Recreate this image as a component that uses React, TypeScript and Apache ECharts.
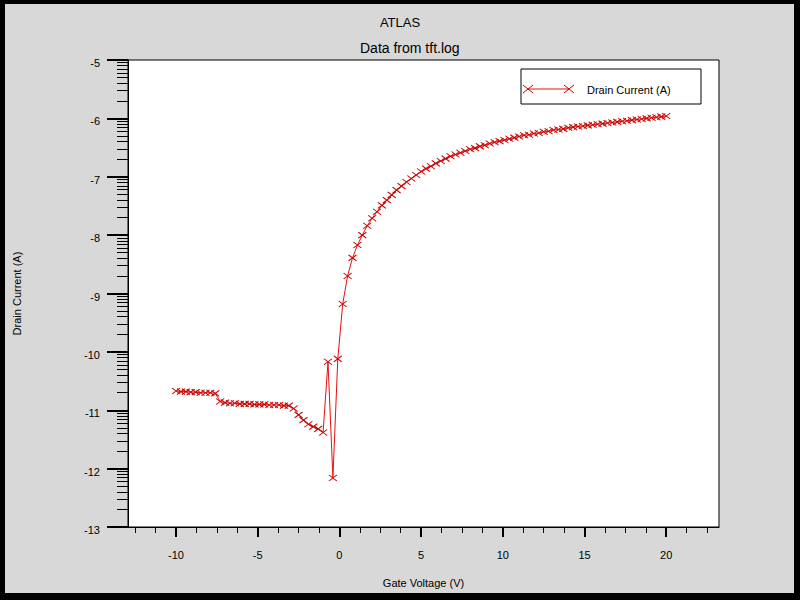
import React, { useEffect, useRef } from "react";
import * as echarts from "echarts";

const gateVoltage = [
  -10.0, -9.7, -9.4, -9.1, -8.8, -8.5, -8.2, -7.9, -7.6, -7.3,
  -7.0, -6.7, -6.4, -6.1, -5.8, -5.5, -5.2, -4.9, -4.6, -4.3,
  -4.0, -3.7, -3.4, -3.1, -2.8, -2.5, -2.2, -1.9, -1.6, -1.3,
  -1.0, -0.7, -0.4, -0.1, 0.2, 0.5, 0.8, 1.1, 1.4, 1.7,
  2.0, 2.3, 2.6, 2.9, 3.2, 3.5, 3.8, 4.1, 4.4, 4.7,
  5.0, 5.3, 5.6, 5.9, 6.2, 6.5, 6.8, 7.1, 7.4, 7.7,
  8.0, 8.3, 8.6, 8.9, 9.2, 9.5, 9.8, 10.1, 10.4, 10.7,
  11.0, 11.3, 11.6, 11.9, 12.2, 12.5, 12.8, 13.1, 13.4, 13.7,
  14.0, 14.3, 14.6, 14.9, 15.2, 15.5, 15.8, 16.1, 16.4, 16.7,
  17.0, 17.3, 17.6, 17.9, 18.2, 18.5, 18.8, 19.1, 19.4, 19.7,
  20.0,
];

const drainCurrentLog = [
  -10.67, -10.68, -10.68, -10.69, -10.69, -10.70, -10.70, -10.70, -10.71, -10.85,
  -10.87, -10.88, -10.88, -10.89, -10.89, -10.89, -10.90, -10.90, -10.90, -10.91,
  -10.91, -10.91, -10.92, -10.92, -10.97, -11.08, -11.17, -11.24, -11.28, -11.32,
  -11.38, -10.17, -12.16, -10.12, -9.18, -8.70, -8.39, -8.17, -8.00, -7.84,
  -7.71, -7.60, -7.49, -7.40, -7.31, -7.23, -7.16, -7.09, -7.03, -6.97,
  -6.91, -6.86, -6.82, -6.77, -6.73, -6.69, -6.65, -6.62, -6.59, -6.56,
  -6.53, -6.51, -6.48, -6.46, -6.43, -6.41, -6.39, -6.37, -6.35, -6.33,
  -6.31, -6.29, -6.28, -6.26, -6.25, -6.23, -6.22, -6.20, -6.19, -6.18,
  -6.16, -6.15, -6.14, -6.13, -6.12, -6.11, -6.10, -6.09, -6.08, -6.07,
  -6.06, -6.05, -6.04, -6.03, -6.02, -6.01, -6.00, -5.99, -5.98, -5.97,
  -5.96,
];

const xMajorTicks = [-10, -5, 0, 5, 10, 15, 20];
const xMinorTicks = [-12.5, -11.25, -8.75, -7.5, -6.25, -3.75, -2.5, -1.25, 1.25, 2.5, 3.75, 6.25, 7.5, 8.75, 11.25, 12.5, 13.75, 16.25, 17.5, 18.75, 21.25, 22.5];
const yDecades = [-13, -12, -11, -10, -9, -8, -7, -6];
const yMinorMultipliers = [2, 3, 4, 5, 6, 7, 8, 9];

const FONT = "Liberation Sans";
const RED_LINE = "#e81010";
const RED_MARK = "#c80000";

export default function App() {
  const ref = useRef<HTMLDivElement>(null);

  useEffect(() => {
    if (!ref.current) return;
    const chart = echarts.init(ref.current, undefined, { renderer: "svg" });

    const yMinor: number[] = [];
    yDecades.forEach((d) => yMinorMultipliers.forEach((k) => yMinor.push(d + Math.log10(k))));

    const data = gateVoltage.map((x, i) => [x, drainCurrentLog[i]]);

    const gridL = 128, gridT = 60, gridR = 719, gridB = 527;

    chart.setOption({
      animation: false,
      backgroundColor: "#d8d8d8",
      textStyle: { fontFamily: FONT, color: "#000" },
      title: [
        { text: "ATLAS", left: "center", top: 11, textStyle: { fontSize: 13, fontWeight: "normal", color: "#000", fontFamily: FONT } },
        { text: "Data from tft.log", left: 355, top: 36, textStyle: { fontSize: 14, fontWeight: "normal", color: "#000", fontFamily: FONT } },
      ],
      grid: {
        left: gridL,
        top: gridT,
        width: gridR - gridL,
        height: gridB - gridT,
        show: true,
        backgroundColor: "#ffffff",
        borderColor: "#000",
        borderWidth: 1,
      },
      xAxis: [
        {
          type: "value",
          min: -12.94,
          max: 23.23,
          position: "bottom",
          splitLine: { show: false },
          axisLine: { show: true, onZero: false, lineStyle: { color: "#000", width: 1 } },
          axisTick: { show: true, customValues: xMajorTicks, length: 10, lineStyle: { color: "#000", width: 2 } },
          axisLabel: { customValues: xMajorTicks, margin: 22, fontSize: 11, color: "#000", fontFamily: FONT },
          name: "Gate Voltage (V)",
          nameLocation: "middle",
          nameGap: 50,
          nameTextStyle: { fontSize: 11, color: "#000", fontFamily: FONT },
        },
        {
          type: "value",
          min: -12.94,
          max: 23.23,
          position: "bottom",
          splitLine: { show: false },
          axisLine: { show: false, onZero: false },
          axisTick: { show: true, customValues: xMinorTicks, length: 6, lineStyle: { color: "#000", width: 1 } },
          axisLabel: { show: false },
        },
      ],
      yAxis: [
        {
          type: "value",
          min: -13,
          max: -5,
          interval: 1,
          position: "left",
          splitLine: { show: false },
          axisLine: { show: true, onZero: false, lineStyle: { color: "#000", width: 1 } },
          axisTick: { show: true, length: 21, lineStyle: { color: "#000", width: 2 } },
          axisLabel: { margin: 28, fontSize: 11, color: "#000", fontFamily: FONT, verticalAlign: "top", lineHeight: 6 },
          name: "Drain Current (A)",
          nameLocation: "middle",
          nameRotate: 90,
          nameGap: 106,
          nameTextStyle: { fontSize: 11, color: "#000", fontFamily: FONT },
        },
        {
          type: "value",
          min: -13,
          max: -5,
          position: "left",
          splitLine: { show: false },
          axisLine: { show: false, onZero: false },
          axisTick: { show: true, customValues: yMinor, length: 11, lineStyle: { color: "#000", width: 1 } },
          axisLabel: { show: false },
        },
      ],
      series: [
        {
          type: "line",
          name: "Drain Current (A)",
          xAxisIndex: 0,
          yAxisIndex: 0,
          data,
          symbol: "path://M0,0L8,6M8,0L0,6",
          symbolSize: [8, 6],
          showSymbol: true,
          itemStyle: { color: RED_MARK, borderColor: RED_MARK, borderWidth: 1 },
          lineStyle: { color: RED_LINE, width: 1 },
          z: 5,
        },
      ],
      graphic: [
        { type: "rect", shape: { x: 0, y: 0, width: 800, height: 4 }, style: { fill: "#000" }, silent: true },
        { type: "rect", shape: { x: 0, y: 593, width: 800, height: 7 }, style: { fill: "#000" }, silent: true },
        { type: "rect", shape: { x: 0, y: 0, width: 5, height: 600 }, style: { fill: "#000" }, silent: true },
        { type: "rect", shape: { x: 794, y: 0, width: 6, height: 600 }, style: { fill: "#000" }, silent: true },
        { type: "rect", shape: { x: 521, y: 69, width: 180, height: 35 }, style: { fill: "#fff", stroke: "#000", lineWidth: 1 }, z: 10 },
        { type: "line", shape: { x1: 528, y1: 89, x2: 569, y2: 89 }, style: { stroke: RED_LINE, lineWidth: 1 }, z: 11 },
        { type: "line", shape: { x1: 523, y1: 85, x2: 533, y2: 93 }, style: { stroke: RED_MARK, lineWidth: 1 }, z: 11 },
        { type: "line", shape: { x1: 523, y1: 93, x2: 533, y2: 85 }, style: { stroke: RED_MARK, lineWidth: 1 }, z: 11 },
        { type: "line", shape: { x1: 564, y1: 85, x2: 574, y2: 93 }, style: { stroke: RED_MARK, lineWidth: 1 }, z: 11 },
        { type: "line", shape: { x1: 564, y1: 93, x2: 574, y2: 85 }, style: { stroke: RED_MARK, lineWidth: 1 }, z: 11 },
        { type: "text", x: 587, y: 90, style: { text: "Drain Current (A)", fontSize: 11, fontFamily: FONT, fill: "#000", verticalAlign: "middle" }, z: 11 },
      ],
    });

    return () => chart.dispose();
  }, []);

  return <div ref={ref} style={{ position: "fixed", left: 0, top: 0, width: 800, height: 600 }} />;
}
